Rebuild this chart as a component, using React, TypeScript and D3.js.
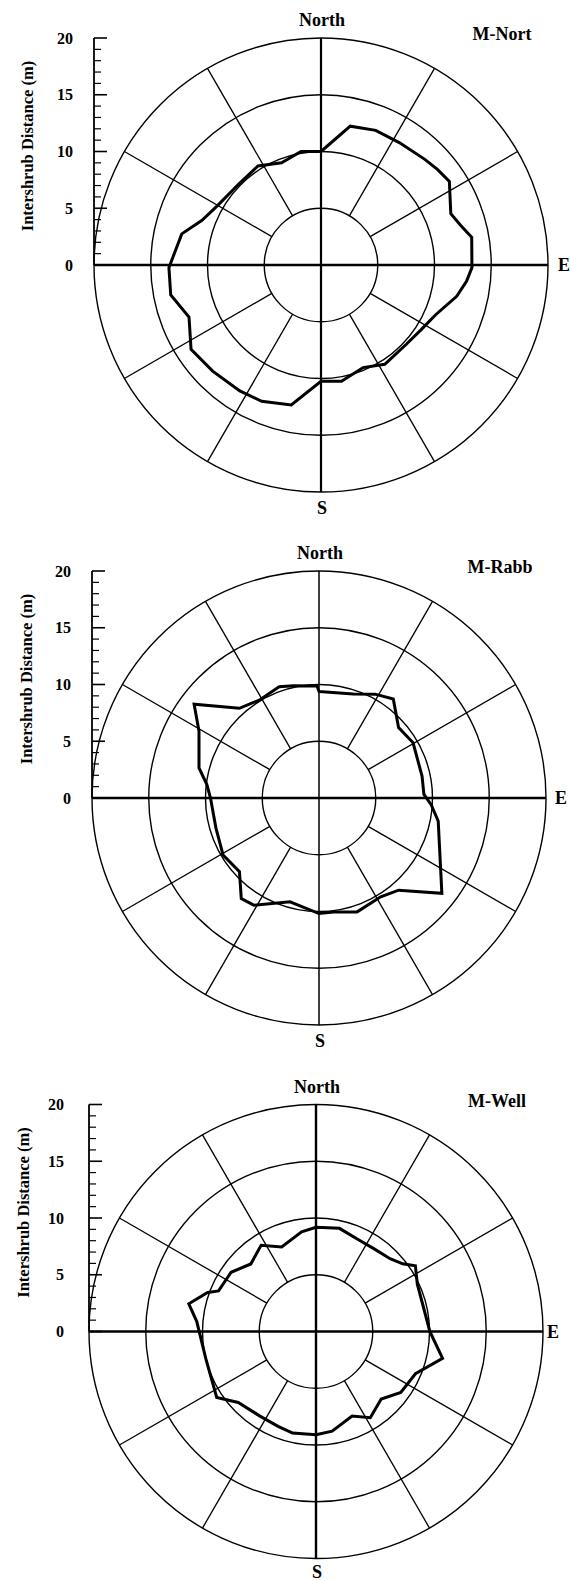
import React from "react";
import * as d3 from "d3";

// Site labels
const siteNames = ["M-Nort", "M-Rabb", "M-Well"];

// Radial axis ticks (m) and grid
const radialTicks = [0, 5, 10, 15, 20];
const minorTicks = d3.range(0, 21, 1);
const ringValues = [5, 10, 15, 20];
const spokeBearings = [30, 60, 120, 150, 210, 240, 300, 330];

// M-Nort: compass bearing (deg) and mean intershrub distance (m)
const nortBearing = [0, 11.9, 22.1, 32.6, 44.5, 50.6, 56.9, 68.4, 74.2, 79.6, 91, 96.4, 103, 113.6, 123, 132.7, 147.3, 157.7, 170, 180, 192, 203.5, 212.8, 225.6, 237, 248.5, 258.7, 269, 282.6, 290.6, 300, 314, 327.5, 338.9, 350];
const nortDistance = [10.0, 12.5, 12.8, 12.8, 13.05, 13.27, 13.5, 12.3, 12.8, 13.5, 13.3, 12.9, 12.27, 11.0, 10.5, 10.26, 10.4, 9.77, 10.4, 10.24, 12.6, 13.1, 13.2, 13.36, 13.65, 12.5, 13.5, 13.4, 12.57, 11.2, 10.5, 10.17, 10.34, 9.66, 10.15];

// M-Rabb
const rabbBearing = [0, 18.3, 28.4, 36.9, 48.5, 59.6, 78, 88, 93.4, 101, 127.8, 139.2, 148, 161.5, 172.8, 180, 195.6, 211.3, 217.7, 227.2, 239.3, 253.7, 270, 276.8, 284.1, 299.1, 306.9, 318.4, 328.6, 340.3, 347.3, 359];
const rabbDistance = [9.39, 9.64, 10.4, 10.9, 9.36, 9.61, 9.28, 9.25, 9.9, 10.7, 13.7, 10.73, 10.26, 10.58, 10.12, 10.18, 9.5, 11.05, 11.2, 9.55, 9.83, 9.46, 9.56, 9.95, 10.9, 12.1, 13.76, 10.57, 10.1, 10.41, 10.14, 9.86];

// M-Well
const wellBearing = [0, 12.8, 25.4, 34.9, 45.5, 52, 56.5, 65, 75.8, 90, 102, 113, 125.7, 136, 147.8, 156.9, 170.8, 180, 193, 201.8, 213.5, 227.6, 236.4, 243, 256, 274.9, 282.3, 289.8, 292.6, 304.9, 316, 327.5, 337.9, 351.8];
const wellDistance = [9.18, 9.32, 8.9, 8.9, 9.15, 9.69, 10.5, 9.85, 9.7, 10.03, 11.4, 9.52, 9.2, 8.27, 8.98, 8.1, 8.9, 9.09, 9.18, 9.0, 8.94, 9.28, 10.5, 10.19, 10.0, 10.55, 11.47, 10.15, 9.3, 9.12, 8.27, 9.0, 8.04, 8.88];

const bearings = [nortBearing, rabbBearing, wellBearing];
const distances = [nortDistance, rabbDistance, wellDistance];

// Page layout of each panel
const layout = [
  { cx: 321, cy: 265, nsWidth: 2.2, eGap: 10, sGap: 22, tickGap: 21, titleX: 27 },
  { cx: 319, cy: 798, nsWidth: 1.5, eGap: 9, sGap: 22, tickGap: 21, titleX: 26 },
  { cx: 316, cy: 1331.5, nsWidth: 2.4, eGap: 4, sGap: 19.5, tickGap: 25, titleX: 23 },
];

const R = 227;
const FONT = "'Liberation Serif', 'Times New Roman', serif";
const toRad = (deg: number) => (deg * Math.PI) / 180;

function Panel({ idx }: { idx: number }) {
  const { cx, cy, nsWidth, eGap, sGap, tickGap, titleX } = layout[idx];
  const r = d3.scaleLinear().domain([0, 20]).range([0, R]);
  const yAxis = d3.scaleLinear().domain([0, 20]).range([cy, cy - R]);
  const axisX = cx - R;

  const pts = bearings[idx].map((b, i) => [toRad(b), r(distances[idx][i])] as [number, number]);
  const path = d3.lineRadial().curve(d3.curveLinearClosed)(pts) || "";

  const spoke = (deg: number, v: number) => [
    Math.sin(toRad(deg)) * r(v),
    -Math.cos(toRad(deg)) * r(v),
  ];

  return (
    <g>
      {/* polar grid */}
      <g transform={`translate(${cx},${cy})`} fill="none" stroke="#000">
        {ringValues.map((v) => (
          <circle key={v} r={r(v)} strokeWidth={1.4} />
        ))}
        {spokeBearings.map((b) => {
          const [x1, y1] = spoke(b, 5);
          const [x2, y2] = spoke(b, 20);
          return <line key={b} x1={x1} y1={y1} x2={x2} y2={y2} strokeWidth={1.3} />;
        })}
        <line x1={0} y1={-r(20)} x2={0} y2={r(20)} strokeWidth={nsWidth} />
        <line x1={-r(20)} y1={0} x2={r(20)} y2={0} strokeWidth={2.6} />
        <path d={path} strokeWidth={3} strokeLinejoin="miter" />
      </g>

      {/* distance axis */}
      <g stroke="#000">
        <line x1={axisX} y1={yAxis(0)} x2={axisX} y2={yAxis(20)} strokeWidth={1.8} />
        {minorTicks.map((t) => (
          <line
            key={t}
            x1={axisX}
            x2={axisX + (t % 5 === 0 ? 13 : 7)}
            y1={yAxis(t)}
            y2={yAxis(t)}
            strokeWidth={t % 5 === 0 ? 1.6 : 1.2}
          />
        ))}
      </g>
      <g fontFamily={FONT} fontWeight="bold" fontSize={16} fill="#000">
        {radialTicks.map((t) => (
          <text key={t} x={axisX - tickGap} y={yAxis(t)} dy="0.35em" textAnchor="end">
            {t}
          </text>
        ))}
        <text
          transform={`translate(${titleX},${cy - 119}) rotate(-90)`}
          textAnchor="middle"
          dy="0.35em"
          fontSize={16.5}
        >
          Intershrub Distance (m)
        </text>
      </g>

      {/* compass labels and site name */}
      <g fontFamily={FONT} fontWeight="bold" fontSize={18} fill="#000">
        <text x={cx + 1} y={cy - R - 12} textAnchor="middle">North</text>
        <text x={cx + 1} y={cy + R + sGap} textAnchor="middle">S</text>
        <text x={cx + R + eGap} y={cy} dy="0.35em">E</text>
        <text x={cx + 181} y={cy - R + 2} textAnchor="middle">{siteNames[idx]}</text>
      </g>
    </g>
  );
}

export default function App() {
  return (
    <svg
      width={570}
      height={1581}
      style={{ position: "absolute", left: 0, top: 0, background: "#fff" }}
    >
      <rect width={570} height={1581} fill="#fff" />
      {siteNames.map((_, i) => (
        <Panel key={i} idx={i} />
      ))}
    </svg>
  );
}
